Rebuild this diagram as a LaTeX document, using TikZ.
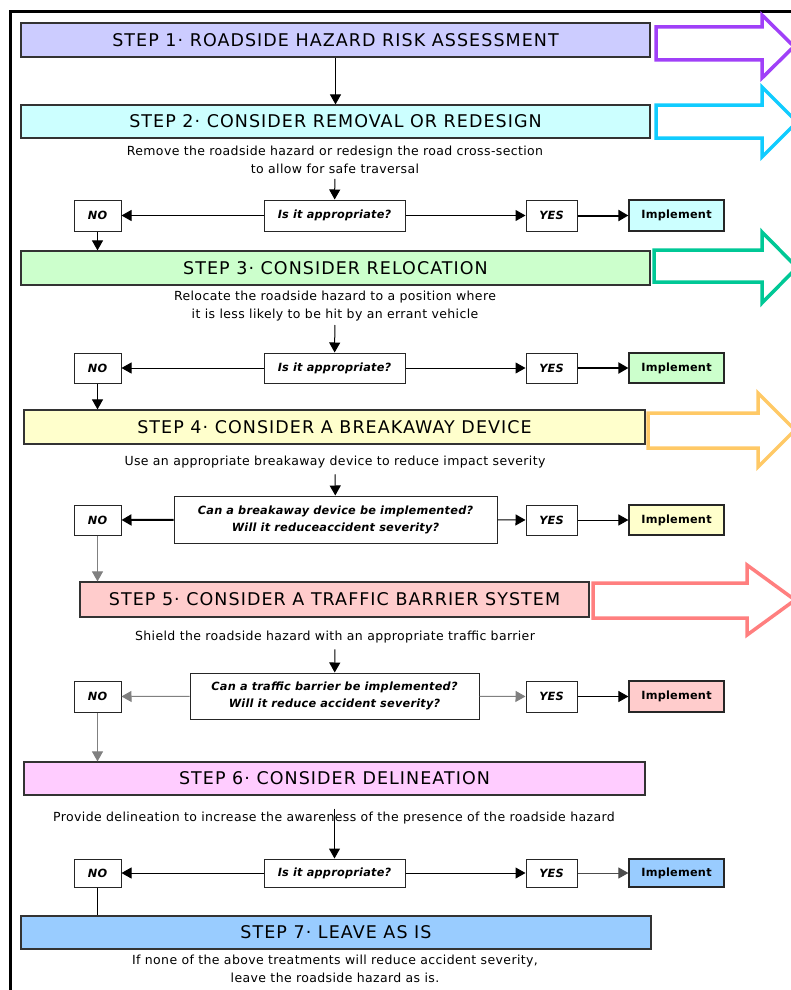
\documentclass[tikz,border=0pt]{standalone}
\usepackage{fontspec}
\setmainfont{DejaVu Sans}
\newfontfamily\stepfont[LetterSpace=6]{DejaVu Sans}
\newfontfamily\notefont[LetterSpace=3]{DejaVu Sans}
\newfontfamily\askfont[LetterSpace=2]{DejaVu Sans}
\usetikzlibrary{arrows.meta,calc}

\definecolor{fillA}{HTML}{CCCCFF}
\definecolor{fillB}{HTML}{CCFFFF}
\definecolor{fillC}{HTML}{CCFFCC}
\definecolor{fillD}{HTML}{FFFFCC}
\definecolor{fillE}{HTML}{FFCCCC}
\definecolor{fillF}{HTML}{FFCCFF}
\definecolor{fillG}{HTML}{99CCFF}
\definecolor{arrA}{HTML}{A040F8}
\definecolor{arrB}{HTML}{10CCFF}
\definecolor{arrC}{HTML}{00C896}
\definecolor{arrD}{HTML}{FFC966}
\definecolor{arrE}{HTML}{FF7F7F}

\newcommand{\titlesize}{\stepfont\fontsize{17.5}{20}\selectfont}
\newcommand{\notesize}{\notefont\fontsize{12.5}{17.5}\selectfont}
\newcommand{\asksize}{\askfont\fontsize{11.3}{17}\selectfont\bfseries\itshape}

\tikzset{
  stepbox/.style={draw=black!80, line width=1.2pt, minimum height=34pt, inner sep=0pt, font=\titlesize},
  askbox/.style={draw=black!85, line width=1pt, minimum height=30pt, inner sep=0pt, align=center, font=\asksize},
  nobox/.style={askbox, minimum width=47pt},
  yesbox/.style={askbox, minimum width=51pt},
  implbox/.style={draw=black!85, line width=1.2pt, minimum width=95pt, minimum height=30pt, inner sep=0pt, font=\askfont\fontsize{11.3}{12}\selectfont\bfseries},
  note/.style={align=center, inner sep=0pt, font=\notesize},
  flow/.style={-{Triangle[length=10pt,width=11pt]}, line width=1pt},
  bigarrow/.style={line width=3.5pt, line join=miter, fill=white}
}

\begin{document}
\begin{tikzpicture}[x=1pt,y=-1pt]

\clip (0,0) rectangle (791,990);

% frame
\draw[line width=3pt] (10,995) -- (10,12) -- (795,12);

% big arrows on the right
\draw[bigarrow, draw=arrA] (656,27) -- (762,27) -- (762,15) -- (794,46.5) -- (762,78) -- (762,60) -- (656,60) -- cycle;
\draw[bigarrow, draw=arrB] (656,105) -- (762,105) -- (762,87) -- (797,122) -- (762,157) -- (762,138) -- (656,138) -- cycle;
\draw[bigarrow, draw=arrC] (654,250) -- (762,250) -- (762,232) -- (797,267.5) -- (762,303) -- (762,282) -- (654,282) -- cycle;
\draw[bigarrow, draw=arrD] (648,413) -- (758,413) -- (758,393) -- (795,430) -- (758,467) -- (758,448) -- (648,448) -- cycle;
\draw[bigarrow, draw=arrE] (593,583) -- (747,583) -- (747,565) -- (795,600) -- (747,635) -- (747,618) -- (593,618) -- cycle;

% steps
\node[stepbox, fill=fillA, minimum width=629pt] (s1) at (335.5,40) {STEP 1· ROADSIDE HAZARD RISK ASSESSMENT};
\node[stepbox, fill=fillB, minimum width=629pt, minimum height=33pt] (s2) at (335.5,121.5) {STEP 2· CONSIDER REMOVAL OR REDESIGN};
\node[stepbox, fill=fillC, minimum width=629pt] (s3) at (335.5,268) {STEP 3· CONSIDER RELOCATION};
\node[stepbox, fill=fillD, minimum width=621pt] (s4) at (334.5,427) {STEP 4· CONSIDER A BREAKAWAY DEVICE};
\node[stepbox, fill=fillE, minimum width=509pt, minimum height=35pt] (s5) at (334.5,599.5) {STEP 5· CONSIDER A TRAFFIC BARRIER SYSTEM};
\node[stepbox, fill=fillF, minimum width=621pt, minimum height=33pt] (s6) at (334.5,778.5) {STEP 6· CONSIDER DELINEATION};
\node[stepbox, fill=fillG, minimum width=630pt, minimum height=33pt] (s7) at (336,932.5) {STEP 7· LEAVE AS IS};

% notes
\node[note] (t2) at (335,160) {Remove the roadside hazard or redesign the road cross-section\\to allow for safe traversal};
\node[note] (t3) at (335,306) {Relocate the roadside hazard to a position where\\it is less likely to be hit by an errant vehicle};
\node[note] (t4) at (335,462) {Use an appropriate breakaway device to reduce impact severity};
\node[note] (t5) at (335,637) {Shield the roadside hazard with an appropriate traffic barrier};
\node[note] (t6) at (334,818) {Provide delineation to increase the awareness of the presence of the roadside hazard};
\node[note] (t7) at (335,969) {If none of the above treatments will reduce accident severity,\\leave the roadside hazard as is.};

% questions
\node[askbox, minimum width=141pt, minimum height=31pt] (q2) at (334.5,215.5) {Is it appropriate?};
\node[askbox, minimum width=141pt] (q3) at (334.5,368) {Is it appropriate?};
\node[askbox, minimum width=323pt, minimum height=47pt] (q4) at (335.5,519.5) {Can a breakaway device be implemented?\\Will it reduceaccident severity?};
\node[askbox, minimum width=289pt, minimum height=46pt] (q5) at (334.5,696) {Can a traffic barrier be implemented?\\Will it reduce accident severity?};
\node[askbox, minimum width=141pt, minimum height=28pt] (q6) at (334.5,873) {Is it appropriate?};

% no / yes / implement
\node[nobox, minimum height=31pt] (n2) at (97.5,215.5) {NO};
\node[nobox] (n3) at (97.5,368) {NO};
\node[nobox] (n4) at (97.5,520) {NO};
\node[nobox, minimum height=31pt] (n5) at (97.5,696.5) {NO};
\node[nobox, minimum height=28pt] (n6) at (97.5,873) {NO};

\node[yesbox, minimum height=31pt] (y2) at (551.5,215.5) {YES};
\node[yesbox] (y3) at (551.5,368) {YES};
\node[yesbox] (y4) at (551.5,520) {YES};
\node[yesbox, minimum height=31pt] (y5) at (551.5,696.5) {YES};
\node[yesbox, minimum height=28pt] (y6) at (551.5,873) {YES};

\node[implbox, fill=fillB, minimum height=31pt] (i2) at (676.5,215.5) {Implement};
\node[implbox, fill=fillC] (i3) at (676.5,368) {Implement};
\node[implbox, fill=fillD] (i4) at (676.5,520) {Implement};
\node[implbox, fill=fillE, minimum height=31pt] (i5) at (676.5,696.5) {Implement};
\node[implbox, fill=fillG, minimum height=28pt] (i6) at (676.5,873) {Implement};

% connectors
\draw[flow] (s1) -- (s2);
\draw[flow, shorten <=5pt] (t2) -- (q2);
\draw[flow] (q2) -- (n2);
\draw[flow] (q2) -- (y2);
\draw[flow, line width=2pt] (y2) -- (i2);
\draw[flow] (n2.south) -- (n2.south |- s3.north);

\draw[flow, shorten <=4pt] (t3) -- (q3);
\draw[flow] (q3) -- (n3);
\draw[flow] (q3) -- (y3);
\draw[flow, line width=2pt] (y3) -- (i3);
\draw[flow] (n3.south) -- (n3.south |- s4.north);

\draw[flow, shorten <=6pt] (t4) -- (q4);
\draw[flow, line width=2pt] (q4) -- (n4);
\draw[flow] (q4) -- (y4);
\draw[flow] (y4) -- (i4);
\draw[flow, draw=black!50] (n4.south) -- (n4.south |- s5.north);

\draw[flow, shorten <=6pt] (t5) -- (q5);
\draw[flow, draw=black!50] (q5) -- (n5);
\draw[flow, draw=black!50] (q5) -- (y5);
\draw[flow] (y5) -- (i5);
\draw[flow, draw=black!50] (n5.south) -- (n5.south |- s6.north);

\draw[flow] ([yshift=-13pt]s6.south) -- (q6);
\draw[flow] (q6) -- (n6);
\draw[flow] (q6) -- (y6);
\draw[flow, draw=black!70] (y6) -- (i6);
\draw[line width=1pt] (n6.south) -- (n6.south |- s7.north);

\end{tikzpicture}
\end{document}
